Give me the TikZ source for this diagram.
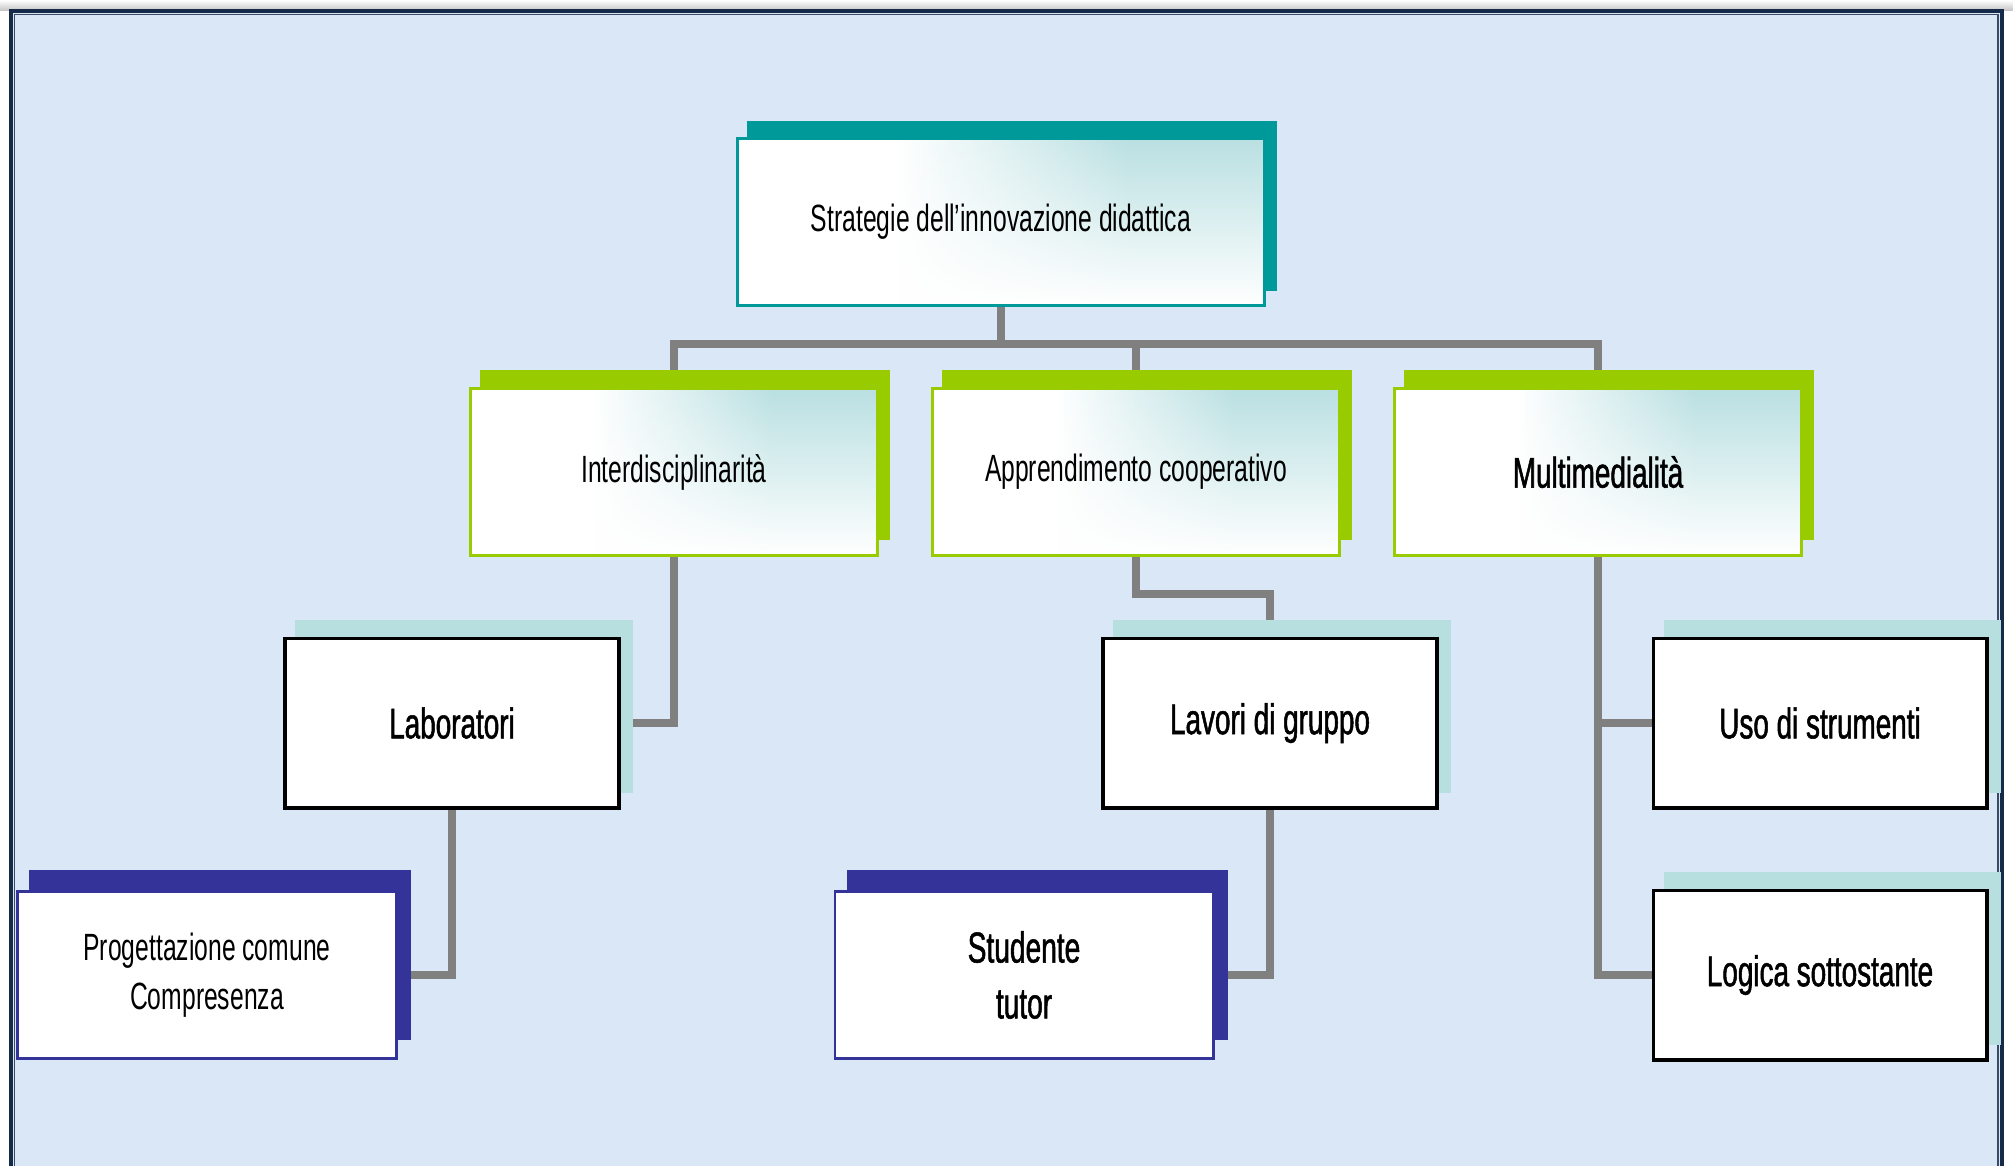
\documentclass[tikz,border=0pt]{standalone}
\usepackage{fontspec}
\setmainfont{Liberation Sans}[FakeStretch=0.65]
\newfontfamily\heavyfont{Liberation Sans}[FakeStretch=0.65, FakeBold=1.2]
\usetikzlibrary{positioning,fadings}

\definecolor{paleblue}{RGB}{217,231,246}
\definecolor{framenavy}{RGB}{22,42,74}
\definecolor{topteal}{RGB}{0,153,153}
\definecolor{limegreen}{RGB}{153,204,0}
\definecolor{paleteal}{RGB}{184,223,224}
\definecolor{gradteal}{RGB}{186,224,226}
\definecolor{inkblue}{RGB}{51,51,153}
\definecolor{linkgrey}{RGB}{128,128,128}

\pgfdeclarelayer{back}
\pgfdeclarelayer{links}
\pgfdeclarelayer{shadow}
\pgfsetlayers{back,links,shadow,main}

\pgfdeclarehorizontalshading{boxgrad}{100bp}{color(0bp)=(white); color(40bp)=(white); color(62bp)=(gradteal); color(100bp)=(gradteal)}
\tikzfading[name=fadeup, top color=transparent!100, middle color=transparent!80, bottom color=transparent!0]

\tikzset{
  link/.style={draw=linkgrey, line width=2.4pt},
  gradbox/.style={rectangle, inner sep=0pt, minimum height=1.67cm, align=center,
    font=\fontsize{10.8}{13.9}\selectfont,
    path picture={
      \shade[shading=boxgrad] (path picture bounding box.south west) rectangle (path picture bounding box.north east);
      \fill[white, path fading=fadeup] (path picture bounding box.south west) rectangle (path picture bounding box.north east);
    }},
  headbox/.style={gradbox, draw=topteal, line width=0.7pt, minimum width=5.27cm},
  areabox/.style={gradbox, draw=limegreen, line width=0.8pt, minimum width=4.07cm},
  toolbox/.style={rectangle, inner sep=0pt, draw=black, fill=white, line width=1.1pt,
    minimum width=3.33cm, minimum height=1.69cm, align=center, font=\heavyfont\fontsize{12.2}{15.9}\selectfont},
  leafbox/.style={rectangle, inner sep=0pt, draw=inkblue, fill=white, line width=0.8pt,
    minimum width=3.78cm, minimum height=1.67cm, align=center}
}

\begin{document}
\begin{tikzpicture}[x=0.01cm, y=-0.01cm]
  \useasboundingbox (0,0) rectangle (2013,1166);

  % page, texture colour and frame
  \begin{pgfonlayer}{back}
    \fill[white] (0,0) rectangle (2013,1166);
    \shade[top color=white, bottom color=black!22] (0,0) rectangle (2013,10);
    \fill[paleblue] (11,11) rectangle (2002,1166);
    \draw[framenavy, line width=0.034cm] (11,1166) -- (11,11) -- (2002,11) -- (2002,1166);
    \draw[framenavy!85, line width=0.013cm] (14.5,1166) -- (14.5,14.5) -- (1998,14.5) -- (1998,1166);
  \end{pgfonlayer}

  % boxes
  \node[headbox] (strat) at (1001,222) {Strategie dell'innovazione didattica};

  \node[areabox] (inter) at (674,472) {Interdisciplinarità};
  \node[areabox] (coop) at (1136,472) {Apprendimento cooperativo};
  \node[areabox, font=\heavyfont\fontsize{12.2}{15.9}\selectfont] (multi) at (1598,472) {Multimedialità};

  \node[toolbox] (lab) at (452,723) {Laboratori};
  \node[toolbox] (group) at (1270,723) {Lavori di gruppo};
  \node[toolbox] (tools) at (1820,723) {Uso di strumenti};
  \node[toolbox] (logic) at (1820,975) {Logica sottostante};

  \node[leafbox, font=\fontsize{10.8}{13.9}\selectfont] (design) at (207,975) {Progettazione comune\\Compresenza};
  \node[leafbox, font=\heavyfont\fontsize{12.3}{15.9}\selectfont] (tutor) at (1024,975) {Studente\\tutor};

  % offset shadows
  \begin{pgfonlayer}{shadow}
    \fill[topteal] ([shift={(11,-16)}]strat.south west) rectangle ([shift={(11,-16)}]strat.north east);
    \fill[limegreen] ([shift={(11,-17)}]inter.south west) rectangle ([shift={(11,-17)}]inter.north east);
    \fill[limegreen] ([shift={(11,-17)}]coop.south west) rectangle ([shift={(11,-17)}]coop.north east);
    \fill[limegreen] ([shift={(11,-17)}]multi.south west) rectangle ([shift={(11,-17)}]multi.north east);
    \fill[paleteal] ([shift={(12,-17)}]lab.south west) rectangle ([shift={(12,-17)}]lab.north east);
    \fill[paleteal] ([shift={(12,-17)}]group.south west) rectangle ([shift={(12,-17)}]group.north east);
    \fill[paleteal] ([shift={(12,-17)}]tools.south west) rectangle ([shift={(12,-17)}]tools.north east);
    \fill[paleteal] ([shift={(12,-17)}]logic.south west) rectangle ([shift={(12,-17)}]logic.north east);
    \fill[inkblue] ([shift={(13,-20)}]design.south west) rectangle ([shift={(13,-20)}]design.north east);
    \fill[inkblue] ([shift={(13,-20)}]tutor.south west) rectangle ([shift={(13,-20)}]tutor.north east);
  \end{pgfonlayer}

  % connectors
  \coordinate (bar) at (1001,344);
  \begin{pgfonlayer}{links}
    \draw[link] (strat.center) -- (bar);
    \draw[link] (inter.center) |- (bar) -| (multi.center);
    \draw[link] (coop.center) -- (coop.center |- bar);
    \draw[link] (inter.center) |- (lab.center);
    \draw[link] (coop.center) -- ++(0,122) -| (group.center);
    \draw[link] (multi.center) |- (tools.center);
    \draw[link] (multi.center) |- (logic.center);
    \draw[link] (lab.center) |- (design.center);
    \draw[link] (group.center) |- (tutor.center);
  \end{pgfonlayer}
\end{tikzpicture}
\end{document}
